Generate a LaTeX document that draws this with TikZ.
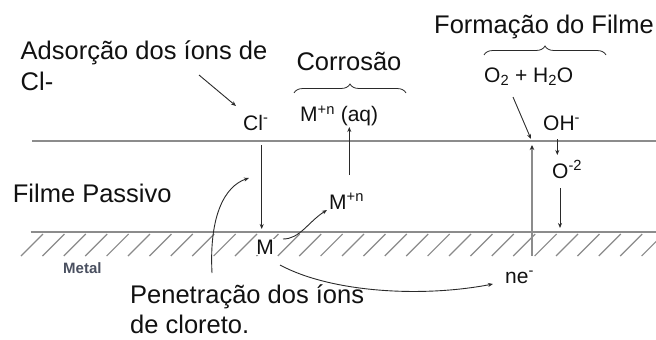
\documentclass[tikz,border=0pt]{standalone}
\usepackage{fontspec}
\setmainfont{Liberation Sans}
\usetikzlibrary{arrows.meta,decorations.pathreplacing}
\definecolor{txt}{HTML}{111111}
\definecolor{linegray}{HTML}{8C8C8C}
\definecolor{hatchgray}{HTML}{8A8A8A}
\definecolor{arrgray}{HTML}{2A2A2A}
\definecolor{metaltxt}{HTML}{4A5060}
\begin{document}
\begin{tikzpicture}[x=1pt,y=-1pt,
  big/.style={font=\fontsize{25.5}{30}\selectfont, inner sep=0, anchor=base west, text=txt},
  lab/.style={font=\fontsize{21}{24}\selectfont, inner sep=0, anchor=base west, text=txt},
  surf/.style={draw=linegray, line width=1.6pt},
  hatchline/.style={draw=hatchgray, line width=1.2pt},
  arr/.style={draw=arrgray, line width=0.9pt, -{Stealth[length=5pt,width=4pt]}},
  thickarr/.style={draw=linegray, line width=1.8pt, -{Stealth[length=5pt,width=4.5pt,color=arrgray]}},
  brc/.style={draw=arrgray, line width=0.8pt, decorate, decoration={brace, amplitude=9pt}}]
\useasboundingbox (0,0) rectangle (656,340);

% surfaces
\coordinate (topL) at (32,141);
\coordinate (topR) at (656,141);
\coordinate (botL) at (30.7,232);
\coordinate (botR) at (656,232);
\draw[surf] (topL) -- (topR);
\draw[surf] (botL) -- (botR);
\foreach \i in {0,...,29} {
  \draw[hatchline] ({21+21.4*\i},256) -- ({43+21.4*\i},234);
}

% texts
\node[big] (adsA) at (20.5,59.5) {Adsorção dos íons de};
\node[big] (adsB) at (20.5,90) {Cl-};
\node[big, anchor=base] (corr) at (349,70.7) {Corrosão};
\node[big, anchor=base] (form) at (544,34) {Formação do Filme};
\node[big] (filme) at (12.7,202.7) {Filme Passivo};
\node[font=\fontsize{15}{18}\selectfont\bfseries, inner sep=0, anchor=base west, text=metaltxt] (metal) at (63,273) {Metal};
\node[big] (penA) at (130,303) {Penetração dos íons};
\node[big] (penB) at (130,333) {de cloreto.};

\node[lab] (cl) at (243,130) {Cl\textsuperscript{-}};
\node[lab] (maq) at (300,121.7) {M\textsuperscript{+n} (aq)};
\node[lab] (mn) at (329,209) {M\textsuperscript{+n}};
\node[lab, anchor=base, fill=white, inner sep=1pt] (m) at (265,254) {M};
\node[lab] (oh) at (543,130) {OH\textsuperscript{-}};
\node[lab] (om) at (552,178) {O\textsuperscript{-2}};
\node[lab] (ne) at (505,283) {ne\textsuperscript{-}};
\node[lab] (oh2o) at (484,82) {O\textsubscript{2} + H\textsubscript{2}O};

% braces
\coordinate (bc1) at (294,93);
\coordinate (bc2) at (406,93);
\coordinate (bf1) at (484,55);
\coordinate (bf2) at (606,55);
\draw[brc] (bc1) -- (bc2);
\draw[brc] (bf1) -- (bf2);

% arrows
\coordinate (adsS) at (199,75);
\coordinate (adsE) at (236,106);
\draw[arr] (adsS) -- (adsE);

\coordinate (clS) at (261.7,145);
\coordinate (clE) at (261.7,229);
\draw[arr] (clS) -- (clE);

\coordinate (maqS) at (349.3,175);
\coordinate (maqE) at (349.3,127);
\draw[arr] (maqS) -- (maqE);

\coordinate (mS) at (283,239);
\coordinate (mE) at (327,210);
\draw[arr] (mS) .. controls (300,239) and (308,222) .. (mE);

\coordinate (penS) at (212,273);
\coordinate (penE) at (249,178);
\draw[arr] (penS) .. controls (209,215) and (225,186) .. (penE);

\coordinate (neS) at (280,265);
\coordinate (neE) at (493,284);
\draw[arr] (neS) .. controls (330,292) and (420,298) .. (neE);

\coordinate (o2S) at (513,97);
\coordinate (o2E) at (531,139);
\draw[arr] (o2S) -- (o2E);

\coordinate (vS) at (532,256);
\coordinate (vE) at (532,145);
\draw[thickarr] (vS) -- (vE);

\coordinate (ohS) at (557.3,139);
\coordinate (ohE) at (557.3,155);
\draw[arr] (ohS) -- (ohE);

\coordinate (omS) at (560,188);
\coordinate (omE) at (560,228);
\draw[arr] (omS) -- (omE);
\end{tikzpicture}
\end{document}
